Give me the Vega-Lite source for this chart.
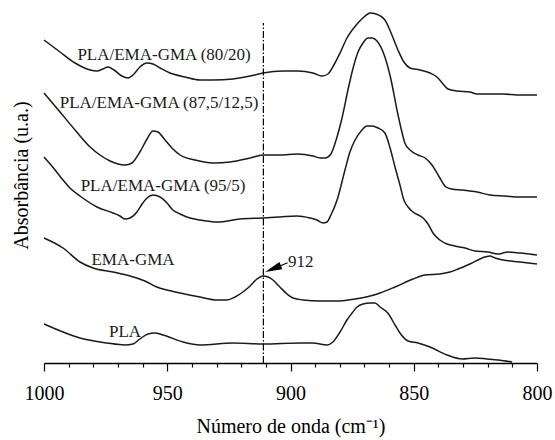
{
"$schema": "https://vega.github.io/schema/vega-lite/v6.json",
"width": 493, "height": 353,
"autosize": "none",
"padding": {"left": 44, "top": 10, "right": 18, "bottom": 77},
"background": "white",
"config": {"view": {"stroke": null}, "font": "Liberation Serif", "axis": {"grid": false}},
"resolve": {"axis": {"x": "independent"}},
"datasets": {
"curves": [
{"s":"80/20","wn":1000,"abs":323},{"s":"80/20","wn":993.5,"abs":311},{"s":"80/20","wn":987.4,"abs":300},{"s":"80/20","wn":981.3,"abs":293},{"s":"80/20","wn":978.5,"abs":292},{"s":"80/20","wn":976.1,"abs":294},{"s":"80/20","wn":974.0,"abs":296},{"s":"80/20","wn":971.6,"abs":293},{"s":"80/20","wn":968.4,"abs":287},{"s":"80/20","wn":965.9,"abs":285},{"s":"80/20","wn":963.5,"abs":289},{"s":"80/20","wn":961.1,"abs":296},{"s":"80/20","wn":958.2,"abs":300},{"s":"80/20","wn":955.8,"abs":299},{"s":"80/20","wn":952.9,"abs":295},{"s":"80/20","wn":948.9,"abs":290},{"s":"80/20","wn":942.8,"abs":286},{"s":"80/20","wn":936.7,"abs":283},{"s":"80/20","wn":931.4,"abs":283},{"s":"80/20","wn":923.3,"abs":284},{"s":"80/20","wn":916.4,"abs":287},{"s":"80/20","wn":911.2,"abs":290},{"s":"80/20","wn":903.0,"abs":292},{"s":"80/20","wn":897.0,"abs":292},{"s":"80/20","wn":890.9,"abs":290},{"s":"80/20","wn":887.2,"abs":287},{"s":"80/20","wn":884.8,"abs":289},{"s":"80/20","wn":882.4,"abs":298},{"s":"80/20","wn":879.9,"abs":310},{"s":"80/20","wn":877.1,"abs":325},{"s":"80/20","wn":873.0,"abs":339},{"s":"80/20","wn":870.2,"abs":346},{"s":"80/20","wn":867.7,"abs":350},{"s":"80/20","wn":865.3,"abs":349},{"s":"80/20","wn":861.7,"abs":343},{"s":"80/20","wn":859.2,"abs":330},{"s":"80/20","wn":856.4,"abs":313},{"s":"80/20","wn":854.0,"abs":301},{"s":"80/20","wn":851.5,"abs":295},{"s":"80/20","wn":847.5,"abs":293},{"s":"80/20","wn":843.4,"abs":290},{"s":"80/20","wn":840.6,"abs":286},{"s":"80/20","wn":838.1,"abs":279},{"s":"80/20","wn":836.1,"abs":274},{"s":"80/20","wn":832.5,"abs":272},{"s":"80/20","wn":827.2,"abs":271},{"s":"80/20","wn":824.3,"abs":269},{"s":"80/20","wn":819.1,"abs":269},{"s":"80/20","wn":813.8,"abs":269},{"s":"80/20","wn":806.9,"abs":268},{"s":"80/20","wn":800,"abs":268},
{"s":"87.5/12.5","wn":1000,"abs":270},{"s":"87.5/12.5","wn":993.5,"abs":251},{"s":"87.5/12.5","wn":987.4,"abs":233},{"s":"87.5/12.5","wn":981.3,"abs":216},{"s":"87.5/12.5","wn":977.3,"abs":208},{"s":"87.5/12.5","wn":973.2,"abs":202},{"s":"87.5/12.5","wn":970.0,"abs":199},{"s":"87.5/12.5","wn":967.1,"abs":198},{"s":"87.5/12.5","wn":964.3,"abs":200},{"s":"87.5/12.5","wn":961.1,"abs":211},{"s":"87.5/12.5","wn":958.2,"abs":224},{"s":"87.5/12.5","wn":955.8,"abs":232},{"s":"87.5/12.5","wn":953.8,"abs":231},{"s":"87.5/12.5","wn":950.9,"abs":223},{"s":"87.5/12.5","wn":948.1,"abs":215},{"s":"87.5/12.5","wn":944.8,"abs":208},{"s":"87.5/12.5","wn":938.7,"abs":203},{"s":"87.5/12.5","wn":931.4,"abs":200},{"s":"87.5/12.5","wn":924.5,"abs":201},{"s":"87.5/12.5","wn":916.4,"abs":205},{"s":"87.5/12.5","wn":911.2,"abs":208},{"s":"87.5/12.5","wn":904.3,"abs":208},{"s":"87.5/12.5","wn":897.4,"abs":209},{"s":"87.5/12.5","wn":890.9,"abs":207},{"s":"87.5/12.5","wn":888.0,"abs":205},{"s":"87.5/12.5","wn":886.0,"abs":205},{"s":"87.5/12.5","wn":883.6,"abs":209},{"s":"87.5/12.5","wn":881.5,"abs":223},{"s":"87.5/12.5","wn":879.1,"abs":245},{"s":"87.5/12.5","wn":876.7,"abs":273},{"s":"87.5/12.5","wn":874.6,"abs":295},{"s":"87.5/12.5","wn":872.6,"abs":311},{"s":"87.5/12.5","wn":870.6,"abs":320},{"s":"87.5/12.5","wn":868.6,"abs":325},{"s":"87.5/12.5","wn":866.9,"abs":325},{"s":"87.5/12.5","wn":864.9,"abs":322},{"s":"87.5/12.5","wn":861.7,"abs":306},{"s":"87.5/12.5","wn":859.2,"abs":283},{"s":"87.5/12.5","wn":856.8,"abs":253},{"s":"87.5/12.5","wn":854.8,"abs":231},{"s":"87.5/12.5","wn":853.6,"abs":220},{"s":"87.5/12.5","wn":851.5,"abs":213},{"s":"87.5/12.5","wn":848.3,"abs":208},{"s":"87.5/12.5","wn":845.4,"abs":205},{"s":"87.5/12.5","wn":842.6,"abs":198},{"s":"87.5/12.5","wn":839.4,"abs":185},{"s":"87.5/12.5","wn":836.9,"abs":176},{"s":"87.5/12.5","wn":834.5,"abs":174},{"s":"87.5/12.5","wn":830.4,"abs":173},{"s":"87.5/12.5","wn":824.3,"abs":171},{"s":"87.5/12.5","wn":819.1,"abs":168},{"s":"87.5/12.5","wn":813.0,"abs":167},{"s":"87.5/12.5","wn":806.9,"abs":166},{"s":"87.5/12.5","wn":800,"abs":166},
{"s":"95/5","wn":1000,"abs":206},{"s":"95/5","wn":995.5,"abs":193},{"s":"95/5","wn":992.3,"abs":183},{"s":"95/5","wn":989.5,"abs":175},{"s":"95/5","wn":985.4,"abs":167},{"s":"95/5","wn":978.5,"abs":156},{"s":"95/5","wn":972.0,"abs":150},{"s":"95/5","wn":969.2,"abs":147},{"s":"95/5","wn":967.1,"abs":144},{"s":"95/5","wn":965.1,"abs":145},{"s":"95/5","wn":962.3,"abs":151},{"s":"95/5","wn":960.2,"abs":159},{"s":"95/5","wn":958.2,"abs":165},{"s":"95/5","wn":955.8,"abs":168},{"s":"95/5","wn":952.9,"abs":166},{"s":"95/5","wn":950.1,"abs":160},{"s":"95/5","wn":947.7,"abs":153},{"s":"95/5","wn":944.8,"abs":149},{"s":"95/5","wn":940.8,"abs":145},{"s":"95/5","wn":936.7,"abs":143},{"s":"95/5","wn":929.8,"abs":141},{"s":"95/5","wn":920.5,"abs":144},{"s":"95/5","wn":911.2,"abs":145},{"s":"95/5","wn":904.3,"abs":146},{"s":"95/5","wn":897.4,"abs":147},{"s":"95/5","wn":892.1,"abs":145},{"s":"95/5","wn":889.3,"abs":143},{"s":"95/5","wn":886.8,"abs":140},{"s":"95/5","wn":885.2,"abs":141},{"s":"95/5","wn":883.6,"abs":148},{"s":"95/5","wn":881.1,"abs":163},{"s":"95/5","wn":877.9,"abs":193},{"s":"95/5","wn":875.9,"abs":211},{"s":"95/5","wn":873.8,"abs":223},{"s":"95/5","wn":871.0,"abs":233},{"s":"95/5","wn":869.0,"abs":237},{"s":"95/5","wn":866.9,"abs":237},{"s":"95/5","wn":864.5,"abs":235},{"s":"95/5","wn":861.7,"abs":230},{"s":"95/5","wn":859.6,"abs":215},{"s":"95/5","wn":857.6,"abs":196},{"s":"95/5","wn":855.6,"abs":178},{"s":"95/5","wn":854.0,"abs":163},{"s":"95/5","wn":852.3,"abs":156},{"s":"95/5","wn":850.3,"abs":151},{"s":"95/5","wn":846.2,"abs":145},{"s":"95/5","wn":844.2,"abs":139},{"s":"95/5","wn":842.2,"abs":130},{"s":"95/5","wn":839.4,"abs":123},{"s":"95/5","wn":836.5,"abs":119},{"s":"95/5","wn":833.3,"abs":117},{"s":"95/5","wn":829.2,"abs":115},{"s":"95/5","wn":825.2,"abs":112},{"s":"95/5","wn":819.9,"abs":111},{"s":"95/5","wn":815.8,"abs":109},{"s":"95/5","wn":813.8,"abs":110},{"s":"95/5","wn":811.8,"abs":111},{"s":"95/5","wn":806.9,"abs":110},{"s":"95/5","wn":800,"abs":108},
{"s":"EMA-GMA","wn":1000,"abs":125},{"s":"EMA-GMA","wn":992.3,"abs":115},{"s":"EMA-GMA","wn":985.4,"abs":101},{"s":"EMA-GMA","wn":980.1,"abs":95},{"s":"EMA-GMA","wn":972.0,"abs":91},{"s":"EMA-GMA","wn":965.1,"abs":87},{"s":"EMA-GMA","wn":958.2,"abs":81},{"s":"EMA-GMA","wn":954.2,"abs":76},{"s":"EMA-GMA","wn":950.1,"abs":73},{"s":"EMA-GMA","wn":944.8,"abs":70},{"s":"EMA-GMA","wn":936.7,"abs":66},{"s":"EMA-GMA","wn":929.8,"abs":63},{"s":"EMA-GMA","wn":925.8,"abs":63},{"s":"EMA-GMA","wn":922.5,"abs":66},{"s":"EMA-GMA","wn":919.3,"abs":71},{"s":"EMA-GMA","wn":916.4,"abs":77},{"s":"EMA-GMA","wn":913.6,"abs":84},{"s":"EMA-GMA","wn":911.2,"abs":87},{"s":"EMA-GMA","wn":909.1,"abs":86},{"s":"EMA-GMA","wn":907.1,"abs":83},{"s":"EMA-GMA","wn":904.3,"abs":76},{"s":"EMA-GMA","wn":901.4,"abs":69},{"s":"EMA-GMA","wn":899.0,"abs":65},{"s":"EMA-GMA","wn":894.9,"abs":63},{"s":"EMA-GMA","wn":888.0,"abs":62},{"s":"EMA-GMA","wn":879.9,"abs":62},{"s":"EMA-GMA","wn":873.8,"abs":64},{"s":"EMA-GMA","wn":867.7,"abs":67},{"s":"EMA-GMA","wn":863.7,"abs":70},{"s":"EMA-GMA","wn":857.6,"abs":76},{"s":"EMA-GMA","wn":850.3,"abs":84},{"s":"EMA-GMA","wn":845.4,"abs":88},{"s":"EMA-GMA","wn":839.4,"abs":89},{"s":"EMA-GMA","wn":835.3,"abs":91},{"s":"EMA-GMA","wn":832.0,"abs":94},{"s":"EMA-GMA","wn":827.2,"abs":99},{"s":"EMA-GMA","wn":821.1,"abs":106},{"s":"EMA-GMA","wn":819.1,"abs":107},{"s":"EMA-GMA","wn":817.0,"abs":105},{"s":"EMA-GMA","wn":813.8,"abs":103},{"s":"EMA-GMA","wn":806.9,"abs":101},{"s":"EMA-GMA","wn":800,"abs":99},
{"s":"PLA","wn":1000,"abs":39},{"s":"PLA","wn":992.3,"abs":31},{"s":"PLA","wn":985.4,"abs":25},{"s":"PLA","wn":974.4,"abs":20},{"s":"PLA","wn":967.1,"abs":18},{"s":"PLA","wn":963.9,"abs":19},{"s":"PLA","wn":961.1,"abs":24},{"s":"PLA","wn":957.8,"abs":29},{"s":"PLA","wn":955.0,"abs":30},{"s":"PLA","wn":951.7,"abs":28},{"s":"PLA","wn":943.6,"abs":21},{"s":"PLA","wn":936.7,"abs":18},{"s":"PLA","wn":923.3,"abs":20},{"s":"PLA","wn":911.2,"abs":19},{"s":"PLA","wn":896.1,"abs":20},{"s":"PLA","wn":890.9,"abs":20},{"s":"PLA","wn":885.2,"abs":18},{"s":"PLA","wn":882.8,"abs":21},{"s":"PLA","wn":879.9,"abs":31},{"s":"PLA","wn":877.1,"abs":43},{"s":"PLA","wn":875.0,"abs":50},{"s":"PLA","wn":873.0,"abs":56},{"s":"PLA","wn":870.6,"abs":59},{"s":"PLA","wn":867.7,"abs":60},{"s":"PLA","wn":865.7,"abs":60},{"s":"PLA","wn":863.7,"abs":56},{"s":"PLA","wn":860.5,"abs":50},{"s":"PLA","wn":857.6,"abs":38},{"s":"PLA","wn":855.6,"abs":30},{"s":"PLA","wn":852.3,"abs":22},{"s":"PLA","wn":848.3,"abs":20},{"s":"PLA","wn":843.4,"abs":16},{"s":"PLA","wn":836.5,"abs":8},{"s":"PLA","wn":830.4,"abs":4},{"s":"PLA","wn":825.2,"abs":5},{"s":"PLA","wn":820.3,"abs":4},{"s":"PLA","wn":815.8,"abs":3},{"s":"PLA","wn":810.1,"abs":1}
],
"marker": [{"wn": 911, "abs": 0, "abs2": 340}],
"labels": [
{"t": "PLA/EMA-GMA (80/20)", "wn": 951.3, "abs": 303},
{"t": "PLA/EMA-GMA (87,5/12,5)", "wn": 953.3, "abs": 255},
{"t": "PLA/EMA-GMA (95/5)", "wn": 951.7, "abs": 172},
{"t": "EMA-GMA", "wn": 963.9, "abs": 98},
{"t": "PLA", "wn": 967.1, "abs": 26},
{"t": "912", "wn": 895.8, "abs": 96}
],
"arrow": [{"wn": 904.5, "abs": 96.8, "wn2": 901.2, "abs2": 100.3}],
"arrowhead": [{"wn": 910.3, "abs": 91}]
},
"layer": [
{
"data": {"name": "curves"},
"mark": {"type": "line", "interpolate": "monotone", "color": "#1a1a1a", "strokeWidth": 1.5},
"encoding": {
"x": {"field": "wn", "type": "quantitative", "title": "Número de onda (cm⁻¹)",
"scale": {"domain": [800, 1000], "reverse": true, "nice": false, "zero": false},
"axis": {"orient": "bottom", "values": [800, 850, 900, 950, 1000], "format": "d",
"labelFont": "Liberation Serif", "labelFontSize": 20, "labelColor": "black",
"labelBaseline": "alphabetic", "labelPadding": 28.5, "labelFlush": false, "labelOverlap": false,
"tickColor": "black", "tickWidth": 1.2, "tickSize": 8,
"domainColor": "black", "domainWidth": 1.5,
"titleFont": "Liberation Serif", "titleFontSize": 20, "titleFontWeight": "normal", "titleColor": "black",
"titleBaseline": "alphabetic", "titleY": 69}},
"y": {"field": "abs", "type": "quantitative", "title": "Absorbância (u.a.)",
"scale": {"domain": [0, 353], "nice": false, "zero": false},
"axis": {"domain": false, "ticks": false, "labels": false,
"titleFont": "Liberation Serif", "titleFontSize": 20, "titleFontWeight": "normal", "titleColor": "black",
"titleAngle": 270, "titleAlign": "center", "titleBaseline": "middle", "titleX": -23, "titleY": 165}},
"detail": {"field": "s"}
}
},
{
"data": {"name": "marker"},
"mark": {"type": "rule", "strokeDash": [7, 2, 1.5, 2], "strokeWidth": 1.2, "color": "black"},
"encoding": {
"x": {"field": "wn", "type": "quantitative", "title": null,
"axis": {"orient": "bottom", "values": [810, 820, 830, 840, 860, 870, 880, 890, 910, 920, 930, 940, 960, 970, 980, 990],
"labels": false, "domain": false, "grid": false, "tickColor": "black", "tickWidth": 1.2, "tickSize": 4, "title": null}},
"y": {"field": "abs", "type": "quantitative", "title": "Absorbância (u.a.)"},
"y2": {"field": "abs2"}
}
},
{
"data": {"name": "labels"},
"mark": {"type": "text", "font": "Liberation Serif", "fontSize": 17, "color": "#1a1a1a", "align": "center", "baseline": "alphabetic"},
"encoding": {
"x": {"field": "wn", "type": "quantitative", "axis": null},
"y": {"field": "abs", "type": "quantitative", "title": "Absorbância (u.a.)"},
"text": {"field": "t"}
}
},
{
"data": {"name": "arrow"},
"mark": {"type": "rule", "strokeWidth": 1.2, "color": "black"},
"encoding": {
"x": {"field": "wn", "type": "quantitative", "axis": null},
"y": {"field": "abs", "type": "quantitative", "title": "Absorbância (u.a.)"},
"x2": {"field": "wn2"},
"y2": {"field": "abs2"}
}
},
{
"data": {"name": "arrowhead"},
"mark": {"type": "point", "shape": "M0,0L2,-0.45L2,0.45Z", "filled": true, "color": "black", "opacity": 1, "size": 289, "angle": 338, "strokeWidth": 0},
"encoding": {
"x": {"field": "wn", "type": "quantitative", "axis": null},
"y": {"field": "abs", "type": "quantitative", "title": "Absorbância (u.a.)"}
}
}
]
}
